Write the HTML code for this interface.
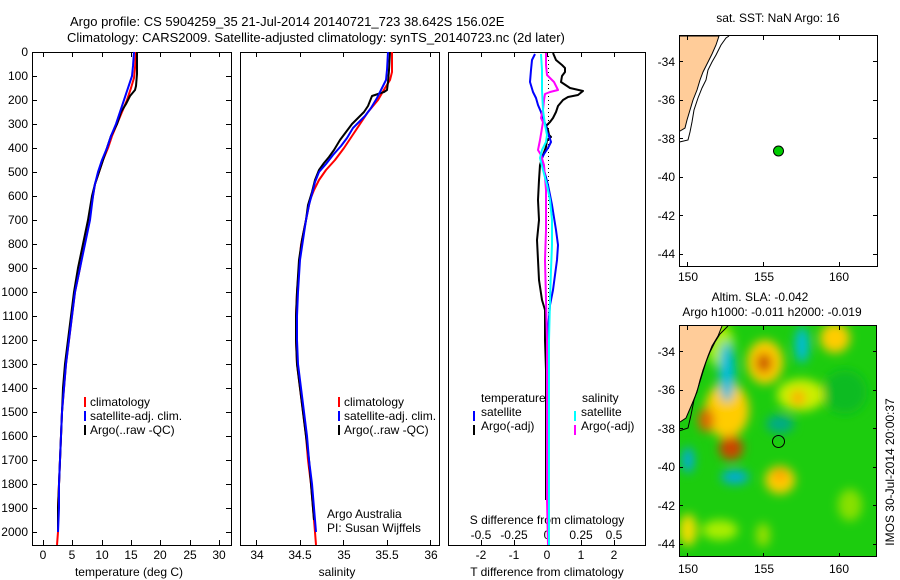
<!DOCTYPE html>
<html><head><meta charset="utf-8"><style>
body{margin:0;background:#fff}
svg{display:block;font-family:"Liberation Sans",sans-serif}
</style></head><body>
<svg width="900" height="580" viewBox="0 0 900 580" xmlns="http://www.w3.org/2000/svg">
<defs>
<filter id="bl" x="-50%" y="-50%" width="200%" height="200%"><feGaussianBlur stdDeviation="5"/></filter>
<clipPath id="cm"><rect x="679" y="326" width="198" height="231"/></clipPath>
</defs>
<rect width="900" height="580" fill="#fff"/>
<g font-size="13" fill="#000">
<text x="70" y="26">Argo profile: CS 5904259_35 21-Jul-2014 20140721_723 38.642S 156.02E</text>
<text x="67" y="42">Climatology: CARS2009. Satellite-adjusted climatology: synTS_20140723.nc (2d later)</text>
</g>
<g fill="none" stroke="#000" stroke-width="1">
<rect x="32.5" y="52.5" width="199" height="493"/>
<rect x="240.5" y="52.5" width="199" height="493"/>
<rect x="448.5" y="52.5" width="197" height="493"/>
</g>
<g font-size="12" text-anchor="end" stroke="none">
<text x="28" y="56">0</text><text x="28" y="80">100</text><text x="28" y="104">200</text><text x="28" y="128">300</text><text x="28" y="152">400</text><text x="28" y="176">500</text><text x="28" y="200">600</text><text x="28" y="224">700</text><text x="28" y="248">800</text><text x="28" y="272">900</text><text x="28" y="296">1000</text><text x="28" y="320">1100</text><text x="28" y="344">1200</text><text x="28" y="368">1300</text><text x="28" y="392">1400</text><text x="28" y="416">1500</text><text x="28" y="440">1600</text><text x="28" y="464">1700</text><text x="28" y="488">1800</text><text x="28" y="512">1900</text><text x="28" y="536">2000</text>
</g>
<g stroke="#000" stroke-width="1">
<path d="M32 76.5h5M32 100.5h5M32 124.5h5M32 148.5h5M32 172.5h5M32 196.5h5M32 220.5h5M32 244.5h5M32 268.5h5M32 292.5h5M32 316.5h5M32 340.5h5M32 364.5h5M32 388.5h5M32 412.5h5M32 436.5h5M32 460.5h5M32 484.5h5M32 508.5h5M32 532.5h5"/>
<path d="M231 76.5h-5M231 100.5h-5M231 124.5h-5M231 148.5h-5M231 172.5h-5M231 196.5h-5M231 220.5h-5M231 244.5h-5M231 268.5h-5M231 292.5h-5M231 316.5h-5M231 340.5h-5M231 364.5h-5M231 388.5h-5M231 412.5h-5M231 436.5h-5M231 460.5h-5M231 484.5h-5M231 508.5h-5M231 532.5h-5"/>
<path d="M43.5 545v-5M72.5 545v-5M102.5 545v-5M131.5 545v-5M160.5 545v-5M190.5 545v-5M219.5 545v-5M43.5 52v5M72.5 52v5M102.5 52v5M131.5 52v5M160.5 52v5M190.5 52v5M219.5 52v5"/>
<path d="M256.5 545v-5M300.5 545v-5M343.5 545v-5M387.5 545v-5M430.5 545v-5M256.5 52v5M300.5 52v5M343.5 52v5M387.5 52v5M430.5 52v5"/>
<path d="M481.5 545v-5M514.5 545v-5M547.5 545v-5M581.5 545v-5M614.5 545v-5M481.5 52v5M514.5 52v5M547.5 52v5M581.5 52v5M614.5 52v5"/>
</g>
<g font-size="12" text-anchor="middle">
<text x="43" y="559">0</text><text x="72" y="559">5</text><text x="102" y="559">10</text><text x="131" y="559">15</text><text x="160" y="559">20</text><text x="190" y="559">25</text><text x="219" y="559">30</text>
<text x="129" y="576">temperature (deg C)</text>
<text x="257" y="559">34</text><text x="300" y="559">34.5</text><text x="344" y="559">35</text><text x="387" y="559">35.5</text><text x="431" y="559">36</text>
<text x="337" y="576">salinity</text>
<text x="481" y="559">-2</text><text x="514" y="559">-1</text><text x="547" y="559">0</text><text x="581" y="559">1</text><text x="614" y="559">2</text>
<text x="547" y="576">T difference from climatology</text>
<text x="481" y="539">-0.5</text><text x="514" y="539">-0.25</text><text x="547" y="539">0</text><text x="581" y="539">0.25</text><text x="614" y="539">0.5</text>
<text x="547" y="524">S difference from climatology</text>
</g>
<!-- temperature profiles -->
<g fill="none" stroke-width="2" stroke-linejoin="round">
<polyline stroke="#f00" points="136,52 135,68 134,78 131,88 127,100 122,112 117,124 112,136 108,148 103,160 99,172 95,184 93,196 89,220 84,244 80,268 75,292 72,316 69,340 66,364 64,388 62,412 61,436 60,460 59,484 58,508 58,532 57,545"/>
<polyline stroke="#000" points="137,52 137,74 136,86 135,90 130,96 126,104 121,112 117,124 111,136 107,148 103,160 99,172 95,184 92,196 88,220 83,244 78,268 74,292 71,316 68,340 65,364 63,388 62,412 61,436 60,460 59,484 58,508 58,532"/>
<polyline stroke="#00f" points="134,52 133,66 132,76 128,88 124,100 120,112 116,124 111,136 107,148 102,160 98,172 95,184 93,196 90,220 85,244 80,268 75,292 72,316 69,340 66,364 64,388 62,412 61,436 60,460 59,484 59,508 58,532"/>
</g>
<!-- salinity profiles -->
<g fill="none" stroke-width="2" stroke-linejoin="round">
<polyline stroke="#f00" points="392,52 392,72 390,80 385,88 378,100 368,112 360,124 352,136 344,148 335,160 326,170 319,180 314,190 310,200 307,215 304,230 301,245 299,268 297,292 296,316 296,340 297,364 300,388 303,412 306,436 308,460 311,484 313,508 315,532 316,545"/>
<polyline stroke="#000" points="390,52 389,70 388,82 387,90 384,92 378,94 372,96 368,106 364,112 358,118 352,124 346,132 340,140 334,150 329,157 324,163 319,170 315,180 312,192 308,205 306,220 302,240 299,260 297,292 296,316 296,340 297,364 300,388 303,412 306,436 309,460 311,484 313,508 314,520"/>
<polyline stroke="#00f" points="388,52 387,70 386,80 382,88 377,98 371,108 365,116 359,122 353,128 347,138 341,146 333,155 326,164 319,172 315,182 312,194 309,205 306,220 303,240 300,260 298,292 297,316 297,340 298,364 301,388 304,412 307,436 309,460 312,484 314,508 316,532"/>
</g>
<!-- diff panel -->
<line x1="548.5" y1="52" x2="548.5" y2="532" stroke="#000" stroke-width="1" stroke-dasharray="1,3"/>
<g fill="none" stroke-width="2" stroke-linejoin="round">
<polyline stroke="#000" points="553,53 556,60 562,65 565,68 565,72 562,76 561,82 570,88 583,91 578,95 568,97 563,100 558,106 556,112 553,118 550,122 546,126 548,130 549,135 551,137 547,140 546,147 543,155 540,165 539,180 538,200 539,220 537,240 538,260 539,280 542,300 545,310 545,340 546,370 546,400 546,440 546,480 546,500"/>
<polyline stroke="#00f" points="535,54 532,60 531,70 530,82 533,92 536,98 538,105 541,112 543,118 546,126 547,132 549,136 551,142 548,148 544,154 541,160 544,170 548,185 552,205 556,230 558,245 557,260 555,275 553,290 550,305 548,330 547,360 547,400 547,420"/>
<polyline stroke="#f0f" points="546,53 546,65 547,75 554,82 558,90 550,92 545,94 544,100 543,110 541,118 543,122 540,140 538,150 541,155 544,165 546,190 546,230 545,260 546,300 547,340 547,400 547,500 548,545"/>
<polyline stroke="#0ff" points="541,54 542,70 542,90 543,110 545,125 547,135 546,142 542,150 540,158 543,170 547,185 550,200 552,220 552,245 551,270 550,300 549,340 549,400 549,460 549,545"/>
</g>
<g font-size="12">
<rect x="84" y="397" width="2" height="10" fill="#f00"/><text x="90" y="406">climatology</text>
<rect x="84" y="411" width="2" height="10" fill="#00f"/><text x="90" y="420">satellite-adj. clim.</text>
<rect x="84" y="425" width="2" height="10" fill="#000"/><text x="90" y="434">Argo(..raw -QC)</text>
<rect x="338" y="397" width="2" height="10" fill="#f00"/><text x="344" y="406">climatology</text>
<rect x="338" y="411" width="2" height="10" fill="#00f"/><text x="344" y="420">satellite-adj. clim.</text>
<rect x="338" y="425" width="2" height="10" fill="#000"/><text x="344" y="434">Argo(..raw -QC)</text>
<text x="327" y="518">Argo Australia</text>
<text x="327" y="532">PI: Susan Wijffels</text>
<text x="481" y="402">temperature</text>
<rect x="473" y="411" width="2" height="10" fill="#00f"/><text x="481" y="416">satellite</text>
<rect x="473" y="425" width="2" height="10" fill="#000"/><text x="481" y="430">Argo(-adj)</text>
<text x="582" y="402">salinity</text>
<rect x="574" y="411" width="2" height="10" fill="#0ff"/><text x="581" y="416">satellite</text>
<rect x="574" y="425" width="2" height="10" fill="#f0f"/><text x="581" y="430">Argo(-adj)</text>
</g>
<!-- top map -->
<g font-size="12">
<text x="778" y="22" text-anchor="middle">sat. SST: NaN Argo: 16</text>
<path d="M679.5,36 L719,36 L716,45 L712,54 L708,62 L703,72 L700,80 L697,90 L693,100 L690,110 L687,120 L685,128 L680,131 L679.5,131 Z" fill="#ffcc99" stroke="#000" stroke-width="1"/>
<path d="M679.5,142 L688,140 L690,132 L692,122 L694,110 L698,98 L702,88 L706,80 L708,70 L712,62 L716,55 L721,45 L726,38 L729,36" fill="none" stroke="#000" stroke-width="1"/>
<rect x="679.5" y="35.5" width="198" height="231" fill="none" stroke="#000"/>
<circle cx="778.5" cy="151" r="5" fill="#00cc00" stroke="#000" stroke-width="1"/>
<g stroke="#000"><path d="M687.5 36v4M763.5 36v4M839.5 36v4M687.5 266v-4M763.5 266v-4M839.5 266v-4M679 61.5h4M679 100.5h4M679 138.5h4M679 177.5h4M679 215.5h4M679 254.5h4M877 61.5h-4M877 100.5h-4M877 138.5h-4M877 177.5h-4M877 215.5h-4M877 254.5h-4"/></g>
<g text-anchor="end"><text x="675" y="66">-34</text><text x="675" y="104">-36</text><text x="675" y="143">-38</text><text x="675" y="181">-40</text><text x="675" y="220">-42</text><text x="675" y="258">-44</text></g>
<g text-anchor="middle"><text x="688" y="281">150</text><text x="764" y="281">155</text><text x="839" y="281">160</text></g>
</g>
<!-- bottom map -->
<g font-size="12">
<text x="760" y="301" text-anchor="middle">Altim. SLA: -0.042</text>
<text x="772" y="316" text-anchor="middle">Argo h1000: -0.011 h2000: -0.019</text>
<g clip-path="url(#cm)">
<rect x="679" y="326" width="198" height="231" fill="#1ccc0e"/>
<g filter="url(#bl)">
<ellipse cx="720" cy="345" rx="14" ry="22" fill="#aaee00"/>
<ellipse cx="727" cy="410" rx="22" ry="28" fill="#ffcc00"/>
<ellipse cx="706" cy="420" rx="8" ry="12" fill="#dd6600"/>
<ellipse cx="731" cy="448" rx="12" ry="12" fill="#cc4400"/>
<ellipse cx="765" cy="362" rx="18" ry="22" fill="#ffcc00"/>
<ellipse cx="764" cy="363" rx="8" ry="10" fill="#cc5500"/>
<ellipse cx="727" cy="372" rx="8" ry="30" fill="#00bbdd"/>
<ellipse cx="802" cy="345" rx="7" ry="18" fill="#00bbdd"/>
<ellipse cx="835" cy="338" rx="15" ry="15" fill="#ffcc00"/>
<ellipse cx="801" cy="395" rx="24" ry="16" fill="#ccee00"/>
<ellipse cx="798" cy="398" rx="7" ry="8" fill="#ffaa00"/>
<ellipse cx="780" cy="480" rx="15" ry="14" fill="#ffcc00"/>
<ellipse cx="780" cy="475" rx="6" ry="6" fill="#ff9900"/>
<ellipse cx="780" cy="424" rx="14" ry="9" fill="#00aa88"/>
<ellipse cx="735" cy="477" rx="14" ry="7" fill="#00aadd"/>
<ellipse cx="688" cy="460" rx="6" ry="13" fill="#00aadd"/>
<ellipse cx="720" cy="530" rx="18" ry="10" fill="#aaee00"/>
<ellipse cx="688" cy="530" rx="9" ry="16" fill="#eedd00"/>
<ellipse cx="850" cy="505" rx="12" ry="16" fill="#88e000"/>
<ellipse cx="845" cy="392" rx="22" ry="22" fill="#11bb22"/>
<ellipse cx="763" cy="535" rx="7" ry="12" fill="#99e000"/>
</g>
<path d="M679,326 L722,326 L718,336 L712,346 L708,356 L703,370 L700,380 L697,392 L692,404 L686,418 L680,422 L679,422 Z" fill="#ffcc99"/>
<path d="M722,326 L718,336 L712,346 L708,356 L703,370 L700,380 L697,392 L692,404 L686,418 L680,422" fill="none" stroke="#000"/>
<path d="M679,431 L688,428 L691,415 L694,400 L698,388 L702,375 L706,362 L710,352 L715,342 L720,334 L728,326" fill="none" stroke="#000"/>
<circle cx="778.5" cy="441.5" r="6" fill="none" stroke="#000"/>
</g>
<rect x="679.5" y="325.5" width="197" height="231" fill="none" stroke="#000"/>
<g stroke="#000"><path d="M687.5 326v4M763.5 326v4M839.5 326v4M687.5 557v-4M763.5 557v-4M839.5 557v-4M679 351.5h4M679 390.5h4M679 428.5h4M679 467.5h4M679 505.5h4M679 544.5h4M877 351.5h-4M877 390.5h-4M877 428.5h-4M877 467.5h-4M877 505.5h-4M877 544.5h-4"/></g>
<g text-anchor="end"><text x="675" y="356">-34</text><text x="675" y="394">-36</text><text x="675" y="433">-38</text><text x="675" y="471">-40</text><text x="675" y="510">-42</text><text x="675" y="548">-44</text></g>
<g text-anchor="middle"><text x="688" y="573">150</text><text x="764" y="573">155</text><text x="839" y="573">160</text></g>
<text transform="translate(894,472) rotate(-90)" text-anchor="middle">IMOS 30-Jul-2014 20:00:37</text>
</g>
</svg>
</body></html>
